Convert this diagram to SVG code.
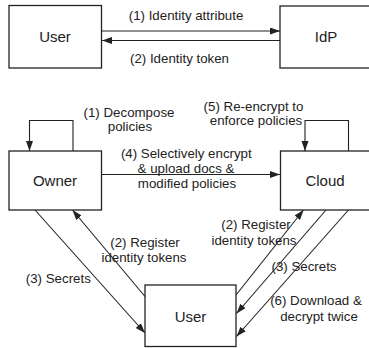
<svg xmlns="http://www.w3.org/2000/svg" width="369" height="348" viewBox="0 0 369 348">
<style>
.box{fill:#fff;stroke:#222;stroke-width:1.3}
.nl{font-family:"Liberation Sans",Arial,sans-serif;font-size:15px;fill:#222;text-anchor:middle}
.lb{font-family:"Liberation Sans",Arial,sans-serif;font-size:13.3px;fill:#222;text-anchor:middle}
.ln{fill:none;stroke:#222;stroke-width:1.1}
</style>
<defs>
<marker id="ah" markerUnits="userSpaceOnUse" markerWidth="11" markerHeight="8" refX="10" refY="3.5" orient="auto">
<path d="M0,0 L10,3.5 L0,7 z" fill="#222"/>
</marker>
</defs>
<rect width="369" height="348" fill="#fff"/>
<g id="connectors">
<line class="ln" x1="102" y1="31" x2="280" y2="31" marker-end="url(#ah)"/>
<line class="ln" x1="280" y1="40.5" x2="102" y2="40.5" marker-end="url(#ah)"/>
<path class="ln" d="M73,151 V120.5 H29.5 V151" marker-end="url(#ah)"/>
<path class="ln" d="M348.5,151 V120.5 H305 V151" marker-end="url(#ah)"/>
<line class="ln" x1="102" y1="174.5" x2="280" y2="174.5" marker-end="url(#ah)"/>
<line class="ln" x1="35" y1="210" x2="145" y2="333" marker-end="url(#ah)"/>
<line class="ln" x1="145" y1="296.5" x2="72.5" y2="210" marker-end="url(#ah)"/>
<line class="ln" x1="236" y1="295" x2="303.5" y2="210" marker-end="url(#ah)"/>
<line class="ln" x1="326" y1="210" x2="236.5" y2="313.5" marker-end="url(#ah)"/>
<line class="ln" x1="348.5" y1="210" x2="236.5" y2="336.5" marker-end="url(#ah)"/>
</g>
<g id="labels">
<text class="lb" x="186" y="20">(1) Identity attribute</text>
<text class="lb" x="179.5" y="62.5">(2) Identity token</text>
<text class="lb" x="129" y="116.5">(1) Decompose</text>
<text class="lb" x="130" y="131">policies</text>
<text class="lb" x="253.5" y="110.5">(5) Re-encrypt to</text>
<text class="lb" x="256" y="125">enforce policies</text>
<text class="lb" x="186.3" y="157.5">(4) Selectively encrypt</text>
<text class="lb" x="186" y="173">&amp; upload docs &amp;</text>
<text class="lb" x="187" y="187.5">modified policies</text>
<text class="lb" x="145" y="246.5">(2) Register</text>
<text class="lb" x="144" y="262">identity tokens</text>
<text class="lb" x="58.3" y="283">(3) Secrets</text>
<text class="lb" x="256" y="228.5">(2) Register</text>
<text class="lb" x="254" y="244.5">identity tokens</text>
<text class="lb" x="304" y="271">(3) Secrets</text>
<text class="lb" x="316" y="305">(6) Download &amp;</text>
<text class="lb" x="319" y="321">decrypt twice</text>
</g>
<g id="user-top"><rect class="box" x="9" y="5.5" width="92.5" height="62.5"/><text class="nl" x="55" y="42">User</text></g>
<g id="idp"><rect class="box" x="280" y="6" width="92" height="62"/><text class="nl" x="326" y="42">IdP</text></g>
<g id="owner"><rect class="box" x="9" y="151" width="92.5" height="59"/><text class="nl" x="55" y="185.5">Owner</text></g>
<g id="cloud"><rect class="box" x="280.5" y="151" width="92" height="59"/><text class="nl" x="325" y="185.5">Cloud</text></g>
<g id="user-bottom"><rect class="box" x="145" y="285" width="91" height="61.5"/><text class="nl" x="190.5" y="321.5">User</text></g>
</svg>
